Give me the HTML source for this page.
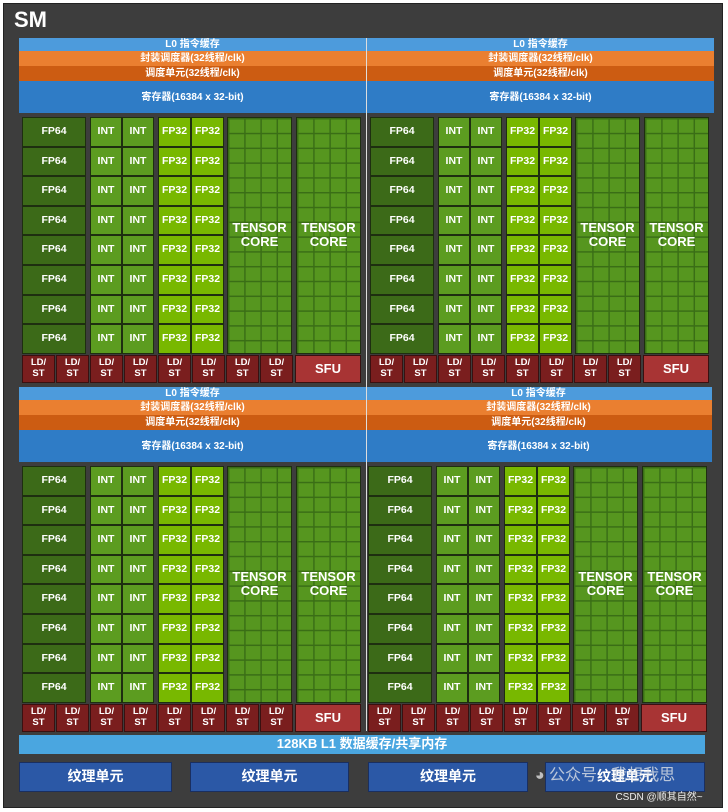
<!DOCTYPE html>
<html><head><meta charset="utf-8"><style>
html,body{margin:0;padding:0;background:#fff;width:728px;height:812px;overflow:hidden}
#sm{position:absolute;left:3px;top:3px;width:718px;height:803px;background:#3d3d3d;border:1px solid #222}
.a{position:absolute;box-sizing:border-box;display:flex;align-items:center;justify-content:center;color:#fff;font-family:"Liberation Sans","Noto Sans CJK SC",sans-serif;font-weight:bold;text-align:center;line-height:1.1}
.bar{font-size:10px}
.u{font-size:10.5px;border:1.5px solid #1e2e10}
.ld{font-size:9.5px;background:#7a1e1e;border:1px solid #3a1010}
.tc{border:1.5px solid #1e2e10;background-color:#56961f;background-image:linear-gradient(#3a6e16 1.5px,transparent 1.5px),linear-gradient(90deg,#3a6e16 1.5px,transparent 1.5px);background-size:16.2px 14.8px;font-size:13px}
</style></head><body>
<div id="sm"></div>
<script>
const root=document.body;
function box(x,y,w,h,cls,txt,bg,name){
 const d=document.createElement('div');
 d.className='a '+cls;
 d.style.left=x+'px';d.style.top=y+'px';d.style.width=w+'px';d.style.height=h+'px';
 if(bg)d.style.background=bg;
 d.innerHTML=txt||'';
 
 
 root.appendChild(d);return d;
}
const t=box(14,5,60,30,'', 'SM','', 'sm-title');t.style.fontSize='22px';t.style.justifyContent='flex-start';
function quad(ox,oy){
 box(ox,oy,347,13,'bar','L0 指令缓存','#4d9bdc','l0-instruction-cache');
 box(ox,oy+13,347,15,'bar','封装调度器(32线程/clk)','#ea7f30','warp-scheduler');
 box(ox,oy+28,347,15,'bar','调度单元(32线程/clk)','#cc5c12','dispatch-unit');
 box(ox,oy+43,347,32,'bar','寄存器(16384 x 32-bit)','#2f7cc6','register-file');
 const uy=oy+79,rh=29.6;
 for(let r=0;r<8;r++){
  const y=uy+r*rh;
  box(ox+3,y,64,rh,'u','FP64','#3c6a18','fp64-unit');
  box(ox+71,y,32,rh,'u','INT','#5c9c20','int-unit');
  box(ox+103,y,32,rh,'u','INT','#5c9c20','int-unit');
  box(ox+139,y,33,rh,'u','FP32','#78b800','fp32-unit');
  box(ox+172,y,33,rh,'u','FP32','#78b800','fp32-unit');
 }
 box(ox+208,uy,65,rh*8,'tc','TENSOR<br>CORE','','tensor-core');
 box(ox+277,uy,65,rh*8,'tc','TENSOR<br>CORE','','tensor-core');
 const ly=uy+rh*8+1;
 for(let i=0;i<8;i++) box(ox+3+i*34,ly,33,28,'ld','LD/<br>ST','','ld-st-unit');
 const s=box(ox+276,ly,66,28,'ld','SFU','#a83434','sfu');s.style.fontSize='13px';
}
quad(19,38);quad(367,38);quad(19,387);quad(365,387);
const ln=document.createElement('div');ln.style.cssText='position:absolute;left:366px;top:38px;width:1px;height:693px;background:#ddd';


root.appendChild(ln);
const l1=box(19,735,686,19,'bar','128KB L1 数据缓存/共享内存','#4aa6e0','l1-cache');l1.style.fontSize='13px';
[[19,153],[190,159],[368,160],[545,160]].forEach(([x,w])=>{
 const b=box(x,762,w,30,'bar','纹理单元','#2b58a6','texture-unit');b.style.fontSize='14px';b.style.border='1px solid #1a2f60';
});
const wm=box(505,762,200,28,'','◕ 公众号 · 我想我思','', 'watermark');wm.style.color='rgba(235,235,235,0.75)';wm.style.fontSize='16px';wm.style.fontWeight='normal';
const cs=box(600,790,118,14,'','CSDN @顺其自然~','', 'csdn-credit');cs.style.fontSize='10px';cs.style.fontWeight='normal';cs.style.color='#eee';
</script>
</body></html>
